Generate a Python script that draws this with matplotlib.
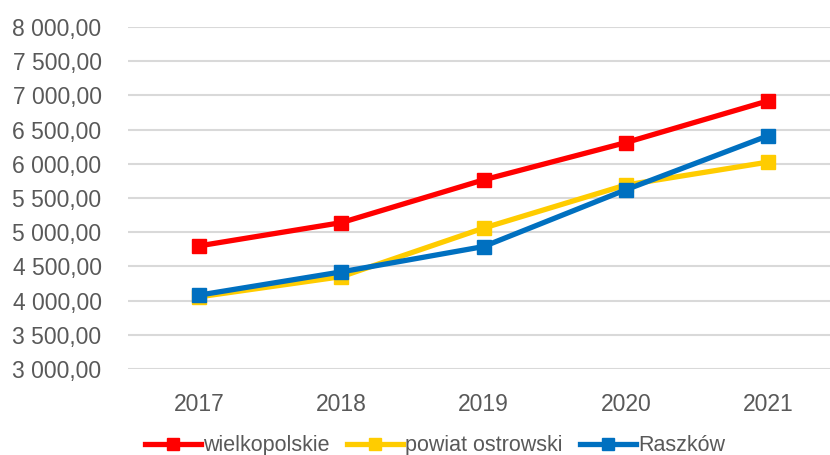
import matplotlib.pyplot as plt
from matplotlib.ticker import FuncFormatter

years = ["2017", "2018", "2019", "2020", "2021"]
wielkopolskie = [4800, 5140, 5765, 6310, 6920]
powiat = [4055, 4350, 5060, 5690, 6025]
raszkow = [4080, 4420, 4790, 5620, 6410]

plt.rcParams['font.family'] = ['Liberation Sans', 'DejaVu Sans']

fig = plt.figure(figsize=(8.3, 4.55), dpi=100)
ax = fig.add_axes([128/830, 1 - 369/455, 1 - 128/830, (369 - 27)/455])

x = range(len(years))
ax.plot(x, wielkopolskie, color="#ff0000", lw=3.8, marker="s", ms=10, label="wielkopolskie", zorder=3)
ax.plot(x, powiat, color="#ffcc00", lw=3.8, marker="s", ms=10, label="powiat ostrowski", zorder=4)
ax.plot(x, raszkow, color="#0070c0", lw=3.8, marker="s", ms=10, label="Raszków", zorder=5)

ax.set_ylim(3000, 8000)
ax.set_yticks(range(3000, 8001, 500))
ax.set_xlim(-0.5, (830 - 199) / 142.25)
ax.set_xticks(list(x))
ax.set_xticklabels(years)

def fmt(v, pos):
    s = f"{v:,.2f}"
    return s.replace(",", " ").replace(".", ",")

ax.yaxis.set_major_formatter(FuncFormatter(fmt))
ax.grid(axis="y", color="#d9d9d9", lw=1.5)
ax.set_axisbelow(True)
for s in ax.spines.values():
    s.set_visible(False)
ax.tick_params(length=0, labelsize=16.5, colors="#595959")
ax.tick_params(axis="y", pad=19)
ax.tick_params(axis="x", pad=17)

leg = fig.legend(loc="lower center", bbox_to_anchor=(435/830, -0.045), ncol=3, frameon=False,
                 fontsize=15.5, handlelength=2.6, handletextpad=0.1, columnspacing=0.8,
                 markerscale=0.85)
for t in leg.get_texts():
    t.set_color("#595959")

fig.savefig("out.png", dpi=100)
